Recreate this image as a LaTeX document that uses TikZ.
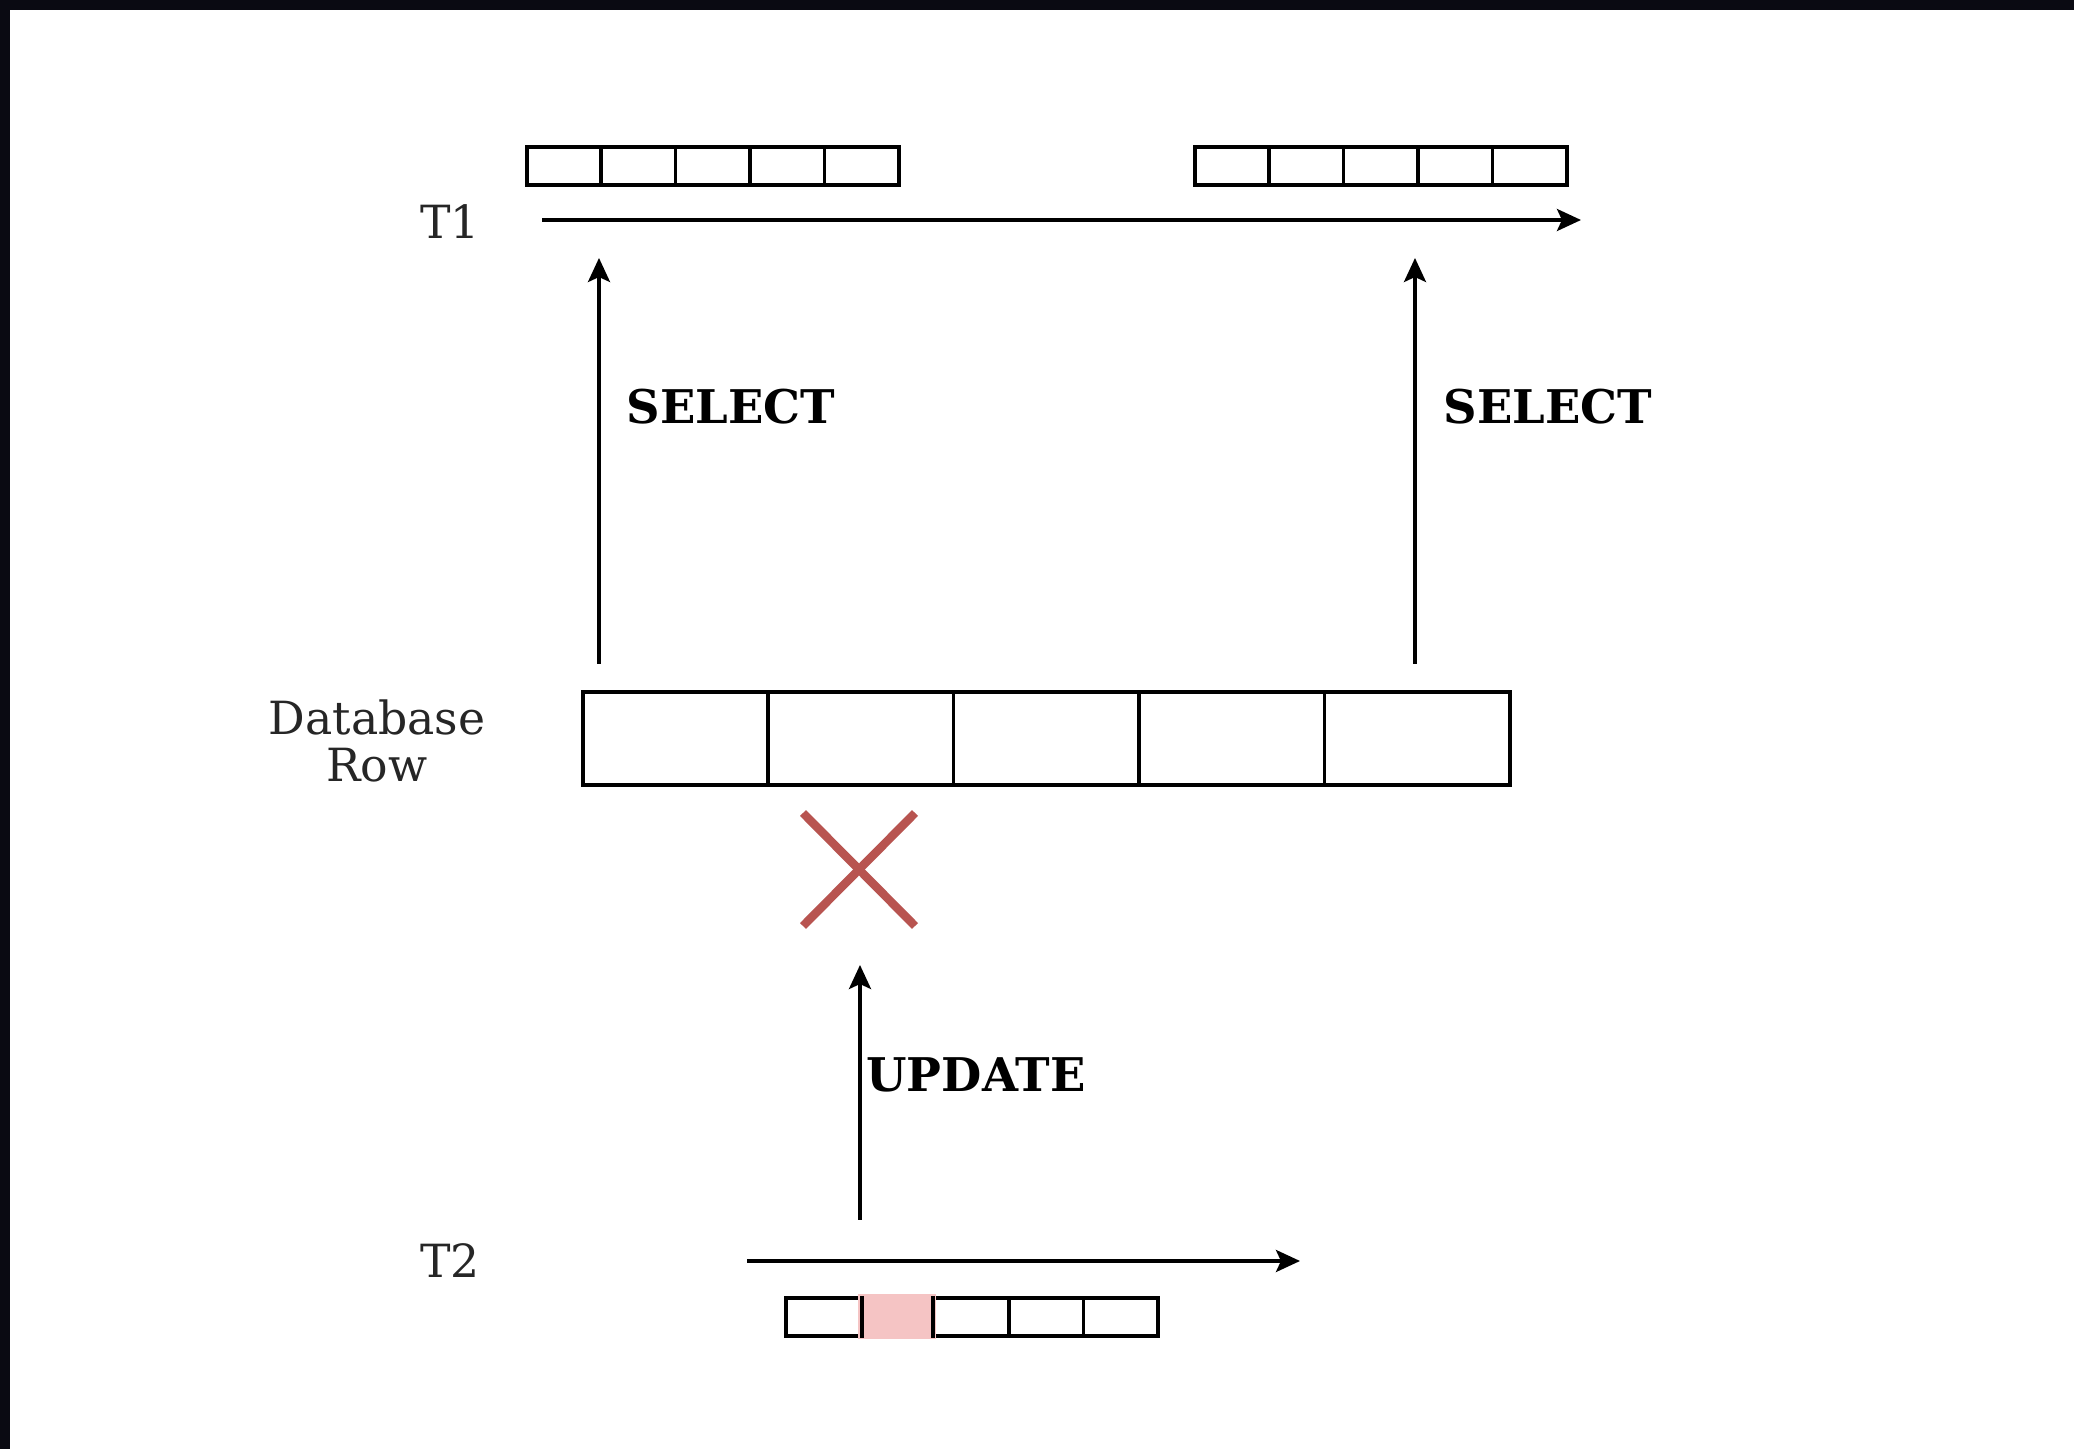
\documentclass[tikz,border=0pt]{standalone}
\usepackage{fontspec}
\setmainfont{DejaVu Serif}
\usetikzlibrary{arrows.meta}
\definecolor{crossred}{HTML}{B85450}
\definecolor{lockpink}{HTML}{F5C4C4}
\definecolor{framedark}{HTML}{0A0A12}

\begin{document}
\begin{tikzpicture}[x=0.01cm, y=-0.01cm, line width=1pt,
    >={Stealth[length=0.24cm, width=0.22cm, inset=0.05cm]},
    cell/.style={draw, inner sep=0pt, anchor=north west, minimum width=0.744cm, minimum height=0.38cm},
    bigcell/.style={draw, inner sep=0pt, anchor=north west, minimum width=1.854cm, minimum height=0.93cm},
    lbl/.style={font=\fontsize{13}{15.5}\selectfont, text=black!85},
    op/.style={font=\fontsize{13.2}{16}\selectfont\bfseries}]
    % frame and page
    \fill [framedark] (0, 0) rectangle (2074, 1449);
    \fill [white] (10, 10) rectangle (2074, 1449);
    \useasboundingbox (0, 0) rectangle (2074, 1449);
    % T1 timeline
    \foreach \i in {0,...,4} {
        \node [cell] (a\i) at (525+74.4*\i, 145) {};
        \node [cell] (b\i) at (1193+74.4*\i, 145) {};
    }
    \node [lbl] (t1) at (450, 222) {T1};
    \coordinate (t1s) at (542, 220);
    \coordinate (t1e) at (1581, 220);
    \draw [->] (t1s) -- (t1e);
    % database row
    \foreach \i in {0,...,4}
        \node [bigcell] (r\i) at (581+185.4*\i, 690) {};
    \node [lbl, align=center] (dbrow) at (377, 741) {Database\\[-2pt]Row};
    \coordinate (s1a) at (599, 664);
    \coordinate (s1b) at (599, 258);
    \coordinate (s2a) at (1415, 664);
    \coordinate (s2b) at (1415, 258);
    \draw [->] (s1a) -- (s1b);
    \draw [->] (s2a) -- (s2b);
    \node [op] (sel1) at (731, 407) {SELECT};
    \node [op] (sel2) at (1548, 407) {SELECT};
    % blocked update
    \coordinate (x1) at (803, 813);
    \coordinate (x2) at (915, 926);
    \coordinate (x3) at (803, 926);
    \coordinate (x4) at (915, 813);
    \draw [crossred, line width=2.4pt] (x1) -- (x2);
    \draw [crossred, line width=2.4pt] (x3) -- (x4);
    \coordinate (ua) at (860, 1220);
    \coordinate (ub) at (860, 965);
    \draw [->] (ua) -- (ub);
    \node [op] (upd) at (976, 1075) {UPDATE};
    % T2 timeline
    \node [lbl] (t2) at (450, 1261) {T2};
    \coordinate (t2s) at (747, 1261);
    \coordinate (t2e) at (1300, 1261);
    \draw [->] (t2s) -- (t2e);
    \foreach \i in {0,...,4}
        \node [cell] (c\i) at (784+74.4*\i, 1296) {};
    \fill [lockpink] ([yshift=0.5pt]c1.north west) rectangle ([yshift=-0.5pt]c1.south east);
    \draw (c0.north east) -- (c0.south east);
    \draw (c2.north west) -- (c2.south west);
\end{tikzpicture}
\end{document}
